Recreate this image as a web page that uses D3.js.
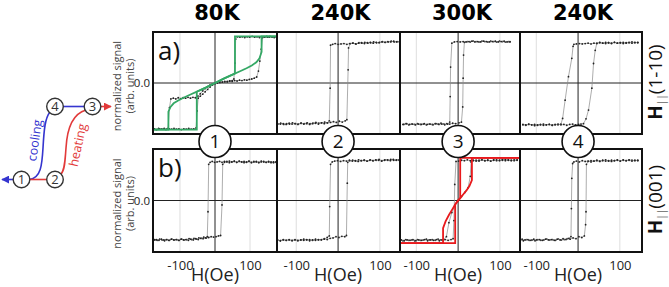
<!DOCTYPE html>
<html>
<head>
<meta charset="utf-8">
<script src="https://cdn.jsdelivr.net/npm/d3@7"></script>
<style>
  body { margin: 0; background: #fff; }
  svg { display: block; font-family: "Open Sans", sans-serif; }
</style>
</head>
<body>
<svg id="chart"></svg>
<script>
// column / row labels
const temps = ['80K', '240K', '300K', '240K'];
const steps = ['1', '2', '3', '4'];
const rowTags = ['a)', 'b)'];
const xTicks = [-100, 100];
const yTicks = [0];
// field range shown in each column (Oe)
const hDomains = [[-177, 177], [-146, 148], [-139, 148], [-139, 153]];
const mDomain = [-1.28, 1.28];

// ---- row a) H || (1-10) ----
const p1aUp = [[-175,-1.15],[-168,-1.17],[-161,-1.14],[-154,-1.16],[-147,-1.15],[-140,-1.17],[-134,-1.14],[-130,-0.62],[-126,-0.4],[-119,-0.38],[-112,-0.4],[-105,-0.37],[-98,-0.39],[-91,-0.37],[-84,-0.38],[-77,-0.36],[-70,-0.38],[-63,-0.36],[-56,-0.37],[-49,-0.33],[-42,-0.27],[-35,-0.2],[-28,-0.14],[-21,-0.09],[-14,-0.05],[-7,-0.02],[0,0.0],[7,0.01],[14,0.03],[21,0.02],[28,0.04],[35,0.03],[42,0.05],[49,0.04],[56,0.06],[63,0.05],[70,0.07],[77,0.06],[84,0.08],[91,0.07],[98,0.09],[105,0.1],[112,0.12],[119,0.15],[124,0.3],[128,0.55],[132,0.85],[136,1.14],[143,1.16],[150,1.15],[157,1.17],[164,1.15],[171,1.16],[176,1.15]];
const p1aDown = [[176,1.16],[169,1.14],[162,1.16],[155,1.15],[148,1.17],[141,1.15],[134,1.16],[127,1.14],[120,1.16],[113,1.15],[106,1.17],[99,1.15],[92,1.16],[85,1.14],[78,1.16],[71,1.15],[64,1.16],[59,1.1],[57,0.5],[54,0.1],[49,0.06],[42,0.05],[35,0.04],[28,0.03],[21,0.02],[14,0.01],[7,0.0],[0,-0.02],[-7,-0.05],[-14,-0.1],[-21,-0.16],[-28,-0.22],[-35,-0.28],[-42,-0.33],[-48,-0.38],[-51,-0.7],[-54,-1.13],[-61,-1.15],[-68,-1.16],[-75,-1.14],[-82,-1.16],[-89,-1.15],[-96,-1.17],[-103,-1.15],[-110,-1.16],[-117,-1.14],[-124,-1.16],[-131,-1.15],[-138,-1.16],[-145,-1.14],[-152,-1.16],[-159,-1.15],[-166,-1.17],[-173,-1.15]];
const p1aSimUp = [[-177,-1.17],[-133,-1.17],[-133,-0.72],[-127,-0.6],[-118,-0.51],[-105,-0.44],[-90,-0.37],[-70,-0.29],[-50,-0.21],[-25,-0.11],[0,0],[25,0.11],[50,0.21],[70,0.29],[90,0.37],[105,0.44],[118,0.52],[127,0.62],[133,0.78],[133,1.17],[177,1.17]];
const p1aSimDown = [[177,1.17],[57,1.17],[57,0.24],[50,0.21],[25,0.11],[0,0],[-25,-0.11],[-52,-0.22],[-52,-1.17],[-177,-1.17]];

const p2aUp = [[-144,-1.03],[-137,-1.01],[-130,-1.04],[-123,-1.02],[-116,-1.03],[-109,-1.0],[-102,-1.02],[-95,-1.03],[-88,-1.01],[-81,-1.02],[-74,-1.0],[-67,-1.02],[-60,-1.01],[-53,-0.99],[-46,-1.01],[-39,-1.0],[-32,-0.98],[-25,-1.0],[-18,-0.99],[-11,-0.97],[-4,-0.99],[3,-0.96],[10,-0.98],[17,-0.95],[21,-0.92],[24,0.33],[25,0.88],[29,0.99],[36,1.0],[43,0.98],[50,1.01],[57,1.0],[64,1.02],[71,1.0],[78,1.01],[85,1.03],[92,1.01],[99,1.02],[106,1.04],[113,1.02],[120,1.03],[127,1.05],[134,1.03],[141,1.04],[147,1.03]];
const p2aDown = [[147,1.04],[140,1.03],[133,1.05],[126,1.03],[119,1.04],[112,1.02],[105,1.03],[98,1.01],[91,1.02],[84,1.0],[77,1.02],[70,1.01],[63,0.99],[56,1.01],[49,1.0],[42,0.98],[35,1.0],[28,0.99],[21,0.97],[14,0.99],[7,0.98],[0,0.97],[-7,0.99],[-13,0.97],[-18,0.95],[-19,-0.13],[-21,-0.95],[-26,-1.0],[-33,-1.02],[-40,-1.0],[-47,-1.03],[-54,-1.01],[-61,-1.02],[-68,-1.04],[-75,-1.02],[-82,-1.03],[-89,-1.01],[-96,-1.04],[-103,-1.02],[-110,-1.03],[-117,-1.01],[-124,-1.04],[-131,-1.02],[-138,-1.03],[-145,-1.02]];

const p3aUp = [[-132,-1.04],[-125,-1.02],[-118,-1.05],[-111,-1.03],[-104,-1.04],[-97,-1.02],[-90,-1.04],[-83,-1.03],[-76,-1.05],[-69,-1.03],[-62,-1.04],[-55,-1.02],[-48,-1.03],[-41,-1.01],[-34,-1.03],[-27,-1.02],[-20,-1.03],[-13,-1.01],[-6,-1.02],[2,-1.0],[8,-0.98],[11,-0.6],[12,0.12],[13,0.7],[15,1.02],[22,1.04],[29,1.03],[36,1.05],[43,1.04],[50,1.03],[57,1.05],[64,1.04],[71,1.03],[78,1.05],[85,1.04],[92,1.03],[99,1.05],[106,1.04],[113,1.03],[120,1.04],[124,1.03]];
const p3aDown = [[124,1.04],[117,1.03],[110,1.05],[103,1.04],[96,1.03],[89,1.05],[82,1.04],[75,1.03],[68,1.04],[61,1.05],[54,1.03],[47,1.04],[40,1.03],[33,1.05],[26,1.04],[19,1.03],[12,1.04],[5,1.03],[-2,1.04],[-9,1.03],[-15,1.0],[-18,0.4],[-19,-0.34],[-20,-0.98],[-25,-1.03],[-32,-1.05],[-39,-1.03],[-46,-1.04],[-53,-1.02],[-60,-1.05],[-67,-1.03],[-74,-1.04],[-81,-1.02],[-88,-1.04],[-95,-1.03],[-102,-1.05],[-109,-1.03],[-116,-1.04],[-123,-1.02],[-130,-1.04]];

const p4aUp = [[-132,-1.05],[-125,-1.06],[-118,-1.04],[-111,-1.05],[-104,-1.07],[-97,-1.05],[-90,-1.04],[-83,-1.06],[-76,-1.05],[-69,-1.04],[-62,-1.06],[-55,-1.05],[-48,-1.03],[-41,-1.05],[-34,-1.04],[-27,-1.06],[-20,-1.04],[-13,-1.03],[-6,-1.05],[1,-1.04],[7,-1.03],[13,-1.02],[19,-0.9],[25,-0.68],[33,-0.13],[37,0.49],[41,0.82],[45,1.0],[52,1.02],[59,1.0],[66,1.02],[73,1.01],[80,0.99],[87,1.02],[94,1.0],[101,1.01],[108,1.02],[115,1.0],[122,1.01],[129,1.03],[136,1.01],[143,1.02]];
const p4aDown = [[143,1.01],[136,1.02],[129,1.0],[122,1.02],[115,1.01],[108,0.99],[101,1.01],[94,1.0],[87,1.02],[80,1.0],[73,1.01],[66,0.99],[59,1.0],[52,1.01],[45,0.99],[38,1.0],[31,0.98],[24,1.0],[17,0.99],[10,0.98],[3,0.99],[-4,0.98],[-10,0.97],[-12,0.92],[-15,0.62],[-23,0.16],[-31,-0.43],[-37,-0.89],[-41,-1.03],[-48,-1.05],[-55,-1.04],[-62,-1.06],[-69,-1.04],[-76,-1.05],[-83,-1.03],[-90,-1.05],[-97,-1.06],[-104,-1.04],[-111,-1.05],[-118,-1.03],[-125,-1.05],[-132,-1.04]];

// ---- row b) H || (001) ----
const p1bUp = [[-172,-0.97],[-165,-0.99],[-158,-0.96],[-151,-0.98],[-144,-1.0],[-137,-0.97],[-130,-0.99],[-123,-0.96],[-116,-0.98],[-109,-0.97],[-102,-0.99],[-95,-0.96],[-88,-0.98],[-81,-0.97],[-74,-0.95],[-67,-0.97],[-60,-0.94],[-53,-0.96],[-46,-0.93],[-39,-0.94],[-32,-0.91],[-25,-0.93],[-18,-0.92],[-11,-0.9],[-4,-0.91],[3,-0.9],[10,-0.88],[16,-0.87],[20,-0.11],[22,0.9],[27,0.95],[34,0.97],[41,0.94],[48,0.96],[55,0.98],[62,0.95],[69,0.97],[76,0.96],[83,0.94],[90,0.96],[97,0.98],[104,0.95],[111,0.97],[118,0.96],[125,0.94],[132,0.96],[139,0.97],[146,0.95],[153,0.96],[160,0.94],[167,0.96],[174,0.95]];
const p1bDown = [[174,0.96],[167,0.94],[160,0.96],[153,0.97],[146,0.95],[139,0.96],[132,0.98],[125,0.95],[118,0.97],[111,0.96],[104,0.94],[97,0.97],[90,0.95],[83,0.97],[76,0.96],[69,0.98],[62,0.95],[55,0.97],[48,0.96],[41,0.98],[34,0.96],[27,0.97],[20,0.95],[13,0.97],[6,0.96],[-1,0.95],[-8,0.97],[-14,0.95],[-18,0.9],[-20,-0.28],[-22,-0.9],[-27,-0.93],[-34,-0.95],[-41,-0.94],[-48,-0.97],[-55,-0.95],[-62,-0.98],[-69,-0.96],[-76,-0.99],[-83,-0.97],[-90,-0.98],[-97,-0.96],[-104,-0.99],[-111,-0.97],[-118,-0.98],[-125,-0.96],[-132,-0.99],[-139,-0.97],[-146,-0.98],[-153,-0.96],[-160,-0.99],[-167,-0.97],[-172,-0.98]];

const p2bUp = [[-145,-0.98],[-138,-1.0],[-131,-0.97],[-124,-0.99],[-117,-0.98],[-110,-1.0],[-103,-0.97],[-96,-0.99],[-89,-0.98],[-82,-0.96],[-75,-0.98],[-68,-0.97],[-61,-0.99],[-54,-0.96],[-47,-0.98],[-40,-0.97],[-33,-0.95],[-26,-0.97],[-19,-0.94],[-12,-0.93],[-5,-0.9],[2,-0.92],[9,-0.89],[16,-0.9],[20,-0.87],[22,0.43],[23,0.95],[28,0.99],[35,1.0],[42,0.98],[49,1.01],[56,0.99],[63,1.0],[70,0.98],[77,1.01],[84,0.99],[91,1.0],[98,1.02],[105,0.99],[112,1.01],[119,1.0],[126,1.02],[133,1.0],[140,1.01],[146,1.0]];
const p2bDown = [[146,1.01],[139,1.0],[132,1.02],[125,0.99],[118,1.01],[111,1.0],[104,0.98],[97,1.0],[90,1.01],[83,0.99],[76,1.0],[69,0.98],[62,1.0],[55,0.99],[48,0.97],[41,0.99],[34,0.98],[27,1.0],[20,0.98],[13,0.99],[6,0.97],[-1,0.99],[-8,0.98],[-14,0.96],[-18,0.9],[-20,-0.15],[-21,-0.88],[-26,-0.92],[-33,-0.96],[-40,-0.98],[-47,-0.97],[-54,-0.99],[-61,-0.98],[-68,-1.0],[-75,-0.97],[-82,-0.99],[-89,-0.98],[-96,-1.0],[-103,-0.98],[-110,-0.99],[-117,-0.97],[-124,-0.99],[-131,-0.98],[-138,-1.0],[-145,-0.98]];

const p3bUp = [[-139,-0.98],[-132,-1.0],[-125,-0.97],[-118,-0.99],[-111,-0.98],[-104,-1.0],[-97,-0.97],[-90,-0.99],[-83,-0.98],[-76,-0.96],[-69,-0.98],[-62,-0.97],[-55,-0.99],[-48,-0.96],[-41,-0.98],[-34,-0.97],[-28,-0.9],[-22,-0.55],[-15,-0.3],[-8,-0.12],[0,0.0],[8,0.1],[16,0.2],[24,0.32],[29,0.6],[31,0.96],[36,0.99],[43,1.0],[50,0.98],[57,1.01],[64,0.99],[71,1.0],[78,0.98],[85,1.01],[92,0.99],[99,1.0],[106,1.02],[113,0.99],[120,1.01],[127,1.0],[134,0.99],[141,1.01]];
const p3bDown = [[141,1.0],[134,1.01],[127,0.99],[120,1.0],[113,1.02],[106,1.0],[99,0.99],[92,1.01],[85,1.0],[78,0.98],[71,1.0],[64,0.99],[57,1.01],[50,1.0],[43,0.98],[36,1.0],[29,0.99],[22,1.01],[15,0.99],[8,1.0],[1,0.98],[-5,0.97],[-8,0.4],[-10,-0.5],[-12,-0.95],[-17,-0.97],[-24,-0.99],[-31,-0.97],[-38,-0.98],[-45,-1.0],[-52,-0.97],[-59,-0.99],[-66,-0.98],[-73,-1.0],[-80,-0.97],[-87,-0.99],[-94,-0.98],[-101,-1.0],[-108,-0.97],[-115,-0.99],[-122,-0.98],[-129,-1.0],[-136,-0.98]];
const p3bSimUp = [[-139,-1.06],[-36,-1.06],[-36,-0.69],[-30,-0.52],[-22,-0.36],[-15,-0.24],[-7,-0.1],[0,0],[6,0.07],[12,0.15],[20,0.25],[27,0.36],[33,0.51],[33,1.06],[148,1.06]];
const p3bSimDown = [[148,1.06],[5,1.06],[5,0.06],[0,0],[-7,-0.1],[-7,-1.06],[-139,-1.06]];

const p4bUp = [[-138,-0.98],[-131,-1.0],[-124,-0.97],[-117,-0.99],[-110,-0.98],[-103,-1.0],[-96,-0.97],[-89,-0.99],[-82,-0.98],[-75,-0.96],[-68,-0.98],[-61,-0.97],[-54,-0.99],[-47,-0.96],[-40,-0.98],[-33,-0.97],[-26,-0.95],[-19,-0.96],[-12,-0.93],[-5,-0.95],[2,-0.9],[9,-0.92],[15,-0.88],[18,-0.6],[19,-0.28],[20,0.9],[24,0.97],[31,0.99],[38,0.98],[45,1.0],[52,0.98],[59,0.99],[66,1.01],[73,0.98],[80,1.0],[87,0.99],[94,1.01],[101,0.98],[108,1.0],[115,0.99],[122,1.01],[129,1.0],[136,0.99],[143,1.0]];
const p4bDown = [[143,0.99],[136,1.0],[129,0.98],[122,1.0],[115,0.99],[108,1.01],[101,0.98],[94,1.0],[87,0.99],[80,0.97],[73,0.99],[66,0.98],[59,1.0],[52,0.97],[45,0.99],[38,0.98],[31,0.96],[24,0.98],[17,0.97],[10,0.99],[3,0.96],[-4,0.98],[-10,0.96],[-13,0.92],[-15,0.55],[-16,-0.2],[-17,-0.9],[-22,-0.94],[-29,-0.97],[-36,-0.95],[-43,-0.98],[-50,-0.96],[-57,-0.99],[-64,-0.97],[-71,-0.98],[-78,-0.96],[-85,-0.99],[-92,-0.97],[-99,-0.98],[-106,-0.96],[-113,-0.99],[-120,-0.97],[-127,-0.98],[-134,-0.96]];

// measured loops per row/column, plus simulated curves (green / red)
const measured = [
  [[p1aUp, p1aDown], [p2aUp, p2aDown], [p3aUp, p3aDown], [p4aUp, p4aDown]],
  [[p1bUp, p1bDown], [p2bUp, p2bDown], [p3bUp, p3bDown], [p4bUp, p4bDown]]
];
const simulated = [
  { row: 0, col: 0, color: '#34a865', curves: [p1aSimUp, p1aSimDown] },
  { row: 1, col: 2, color: '#e8191c', curves: [p3bSimUp, p3bSimDown] }
];

// ---------- layout ----------
const W = 669, H = 287;
const colEdges = [153, 277, 400, 520, 642];
const rowBox = [[32, 134], [149, 252]];
const blue = '#3535cf', red = '#e23a3a';

const svg = d3.select('#chart').attr('width', W).attr('height', H);

const xScales = hDomains.map((dom, i) => d3.scaleLinear().domain(dom).range([colEdges[i], colEdges[i + 1]]));
const yScales = rowBox.map(r => d3.scaleLinear().domain(mDomain).range([r[1], r[0]]));

const line = (xs, ys) => d3.line().x(d => xs(d[0])).y(d => ys(d[1]));

rowBox.forEach((rb, r) => {
  const ys = yScales[r];
  xScales.forEach((xs, c) => {
    const g = svg.append('g');
    // light grid at +-100
    g.selectAll('.grid').data(xTicks).join('line')
      .attr('x1', d => xs(d)).attr('x2', d => xs(d))
      .attr('y1', rb[0]).attr('y2', rb[1])
      .attr('stroke', '#dedede').attr('stroke-width', 1);
    // zero lines
    g.append('line').attr('x1', xs(0)).attr('x2', xs(0)).attr('y1', rb[0]).attr('y2', rb[1])
      .attr('stroke', '#222').attr('stroke-width', 1);
    g.append('line').attr('x1', xs.range()[0]).attr('x2', xs.range()[1]).attr('y1', ys(0)).attr('y2', ys(0))
      .attr('stroke', '#222').attr('stroke-width', 1);

    // measured data: thin gray line + small dots
    measured[r][c].forEach(branch => {
      g.append('path').datum(branch)
        .attr('d', line(xs, ys))
        .attr('fill', 'none').attr('stroke', '#8a8a8a').attr('stroke-width', 0.7);
      g.selectAll(null).data(branch).join('circle')
        .attr('cx', d => xs(d[0])).attr('cy', d => ys(d[1]))
        .attr('r', 0.9).attr('fill', '#222');
    });
  });
});

// simulated curves on top
simulated.forEach(s => {
  const xs = xScales[s.col], ys = yScales[s.row];
  s.curves.forEach(cv => {
    svg.append('path').datum(cv)
      .attr('d', line(xs, ys))
      .attr('fill', 'none').attr('stroke', s.color).attr('stroke-width', 1.8);
  });
});

// panel frames
rowBox.forEach(rb => {
  xScales.forEach(xs => {
    svg.append('rect')
      .attr('x', xs.range()[0]).attr('y', rb[0])
      .attr('width', xs.range()[1] - xs.range()[0]).attr('height', rb[1] - rb[0])
      .attr('fill', 'none').attr('stroke', '#111').attr('stroke-width', 2);
  });
});

// x axes (bottom row only)
xScales.forEach((xs, c) => {
  const ax = svg.append('g')
    .attr('transform', `translate(0,${rowBox[1][1]})`)
    .call(d3.axisBottom(xs).tickValues(xTicks).tickSize(0).tickPadding(9).tickFormat(d => String(d)));
  ax.select('.domain').remove();
  ax.selectAll('text').attr('font-size', 13).attr('fill', '#222').attr('font-family', '"Open Sans", sans-serif');
  svg.append('text')
    .attr('x', xs(0)).attr('y', 281)
    .attr('text-anchor', 'middle').attr('font-size', 18).attr('fill', '#222')
    .text('H(Oe)');
});

// y axis "0" + label, row tags
rowBox.forEach((rb, r) => {
  const ax = svg.append('g')
    .attr('transform', `translate(${colEdges[0]},0)`)
    .call(d3.axisLeft(yScales[r]).tickValues(yTicks).tickSize(0).tickPadding(3));
  ax.select('.domain').remove();
  ax.selectAll('text').attr('font-size', 11.5).attr('fill', '#222').attr('font-family', '"Open Sans", sans-serif');

  const cy = (rb[0] + rb[1]) / 2 + 3;
  svg.append('text')
    .attr('transform', `translate(121,${cy}) rotate(-90)`)
    .attr('text-anchor', 'middle').attr('font-size', 11).attr('fill', '#444')
    .text('normalized signal');
  svg.append('text')
    .attr('transform', `translate(134,${cy}) rotate(-90)`)
    .attr('text-anchor', 'middle').attr('font-size', 11).attr('fill', '#444')
    .text('(arb. units)');

  svg.append('text')
    .attr('x', 158).attr('y', rb[0] + 28)
    .attr('font-size', 26).attr('fill', '#111')
    .text(rowTags[r]);
});

// temperature titles
temps.forEach((t, c) => {
  const xs = xScales[c];
  svg.append('text')
    .attr('x', (xs.range()[0] + xs.range()[1]) / 2 + 2).attr('y', 20)
    .attr('text-anchor', 'middle')
    .attr('font-family', '"DejaVu Sans", sans-serif').attr('font-weight', 'bold').attr('font-size', 21)
    .attr('fill', '#000')
    .text(t);
});

// numbered steps between rows
steps.forEach((s, c) => {
  const cx = xScales[c](0), cy = 141.5;
  svg.append('circle').attr('cx', cx).attr('cy', cy).attr('r', 16)
    .attr('fill', '#fff').attr('stroke', '#111').attr('stroke-width', 1.6);
  svg.append('text').attr('x', cx).attr('y', cy).attr('dy', '0.36em')
    .attr('text-anchor', 'middle').attr('font-size', 19).attr('fill', '#111')
    .text(s);
});

// right-side orientation labels
const orient = [['(1-10)', 0], ['(001)', 1]];
orient.forEach(([txt, r]) => {
  const cy = (rowBox[r][0] + rowBox[r][1]) / 2 - 1;
  const t = svg.append('text')
    .attr('transform', `translate(662,${cy}) rotate(-90)`)
    .attr('text-anchor', 'middle').attr('font-size', 19).attr('fill', '#111');
  t.append('tspan').attr('font-weight', 'bold').text('H');
  t.append('tspan').attr('font-size', 10).attr('dy', 2.5).text('||');
  t.append('tspan').attr('dy', -2.5).text(txt);
});

// ---------- cooling / heating sketch ----------
const nodes = { n1: [21.5, 179.5], n2: [55, 179.5], n3: [92.5, 106.5], n4: [55, 106.5] };
const sk = svg.append('g');
sk.append('defs').html(
  `<marker id="ab" viewBox="0 0 10 10" refX="9" refY="5" markerWidth="5" markerHeight="5" orient="auto"><path d="M0,0L10,5L0,10z" fill="${blue}"/></marker>
   <marker id="ar" viewBox="0 0 10 10" refX="9" refY="5" markerWidth="5" markerHeight="5" orient="auto"><path d="M0,0L10,5L0,10z" fill="${red}"/></marker>`);
// cooling path (blue)
sk.append('path').attr('d', `M${nodes.n1[0] + 8},${nodes.n1[1]} C41,178 42,165 43,148 C44,130 45,118 50,112`)
  .attr('fill', 'none').attr('stroke', blue).attr('stroke-width', 1.6);
sk.append('line').attr('x1', nodes.n4[0] + 8).attr('y1', nodes.n4[1]).attr('x2', nodes.n3[0] - 8).attr('y2', nodes.n3[1])
  .attr('stroke', blue).attr('stroke-width', 1.6);
sk.append('line').attr('x1', nodes.n1[0] - 8).attr('y1', nodes.n1[1]).attr('x2', 2).attr('y2', nodes.n1[1])
  .attr('stroke', blue).attr('stroke-width', 1.6).attr('marker-end', 'url(#ab)');
// heating path (red)
sk.append('line').attr('x1', nodes.n1[0] + 8).attr('y1', nodes.n1[1]).attr('x2', nodes.n2[0] - 8).attr('y2', nodes.n2[1])
  .attr('stroke', red).attr('stroke-width', 1.6);
sk.append('path').attr('d', `M61,174 C65,170 65,160 66,148 C67,130 72,114 86,110`)
  .attr('fill', 'none').attr('stroke', red).attr('stroke-width', 1.6);
sk.append('line').attr('x1', nodes.n3[0] + 8).attr('y1', nodes.n3[1]).attr('x2', 111).attr('y2', nodes.n3[1])
  .attr('stroke', red).attr('stroke-width', 1.6).attr('marker-end', 'url(#ar)');

Object.keys(nodes).forEach(k => {
  const [x, y] = nodes[k];
  sk.append('circle').attr('cx', x).attr('cy', y).attr('r', 8.3)
    .attr('fill', '#fff').attr('stroke', '#333').attr('stroke-width', 1.4);
  sk.append('text').attr('x', x).attr('y', y).attr('dy', '0.36em')
    .attr('text-anchor', 'middle').attr('font-size', 13).attr('fill', '#333')
    .text(k.slice(1));
});
sk.append('text').attr('transform', 'translate(39,141) rotate(-82)')
  .attr('text-anchor', 'middle').attr('font-size', 12.5).attr('fill', blue).text('cooling');
sk.append('text').attr('transform', 'translate(82,146) rotate(-78)')
  .attr('text-anchor', 'middle').attr('font-size', 12.5).attr('fill', red).text('heating');
</script>
</body>
</html>
